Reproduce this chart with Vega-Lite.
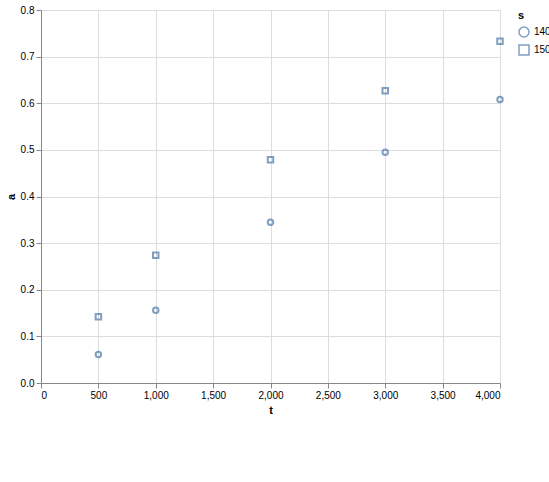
{
  "$schema": "https://vega.github.io/schema/vega-lite/v6.json",
  "width": 459,
  "height": 373,
  "data": {"values": [
    {"s":"150°C","t":500,"a":0.142},{"s":"150°C","t":1000,"a":0.274},{"s":"150°C","t":2000,"a":0.479},{"s":"150°C","t":3000,"a":0.627},{"s":"150°C","t":4000,"a":0.733},
    {"s":"140°C","t":500,"a":0.061},{"s":"140°C","t":1000,"a":0.156},{"s":"140°C","t":2000,"a":0.345},{"s":"140°C","t":3000,"a":0.495},{"s":"140°C","t":4000,"a":0.608}
  ]},
  "mark": {"type": "point"},
  "encoding": {
    "x": {"field": "t", "type": "quantitative"},
    "y": {"field": "a", "type": "quantitative"},
    "shape": {"field": "s", "type": "nominal"}
  }
}
